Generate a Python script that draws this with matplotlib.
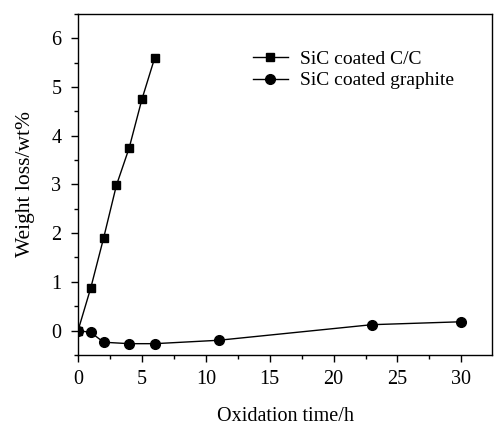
import matplotlib
matplotlib.use("Agg")
import matplotlib.pyplot as plt
from matplotlib.ticker import MultipleLocator

plt.rcParams['font.family'] = ['Liberation Serif', 'DejaVu Serif']

cc_x = [0, 1, 2, 3, 4, 5, 6]
cc_y = [0, 0.88, 1.9, 2.98, 3.75, 4.75, 5.6]
gr_x = [0, 1, 2, 4, 6, 11, 23, 30]
gr_y = [0, -0.04, -0.24, -0.27, -0.27, -0.2, 0.12, 0.18]

fig = plt.figure(figsize=(4.94, 4.25), dpi=100)
ax = fig.add_axes([0.158, 0.165, 0.838, 0.802])
ax.plot(cc_x, cc_y, '-s', color='black', lw=1, ms=6, label='SiC coated C/C')
ax.plot(gr_x, gr_y, '-o', color='black', lw=1, ms=7, label='SiC coated graphite')
ax.set_xlim(0, 32.4)
ax.set_ylim(-0.5, 6.5)
ax.xaxis.set_major_locator(MultipleLocator(5))
ax.xaxis.set_minor_locator(MultipleLocator(2.5))
ax.yaxis.set_major_locator(MultipleLocator(1))
ax.yaxis.set_minor_locator(MultipleLocator(0.5))
ax.tick_params(which='major', direction='out', length=5, width=1, labelsize=14.5)
ax.tick_params(axis='x', which='major', pad=6)
ax.tick_params(axis='y', which='major', pad=7)
ax.tick_params(which='minor', direction='out', length=3, width=1)
for s in ax.spines.values():
    s.set_linewidth(1)
ax.set_xlabel('Oxidation time/h', fontsize=14.5, labelpad=13)
ax.set_ylabel('Weight loss/wt%', fontsize=15.5, labelpad=12)
ax.legend(loc='upper left', bbox_to_anchor=(0.38, 0.945), frameon=False, fontsize=14,
          handlelength=1.8, handletextpad=0.6, labelspacing=0.2)
fig.savefig('out.png', dpi=100)
